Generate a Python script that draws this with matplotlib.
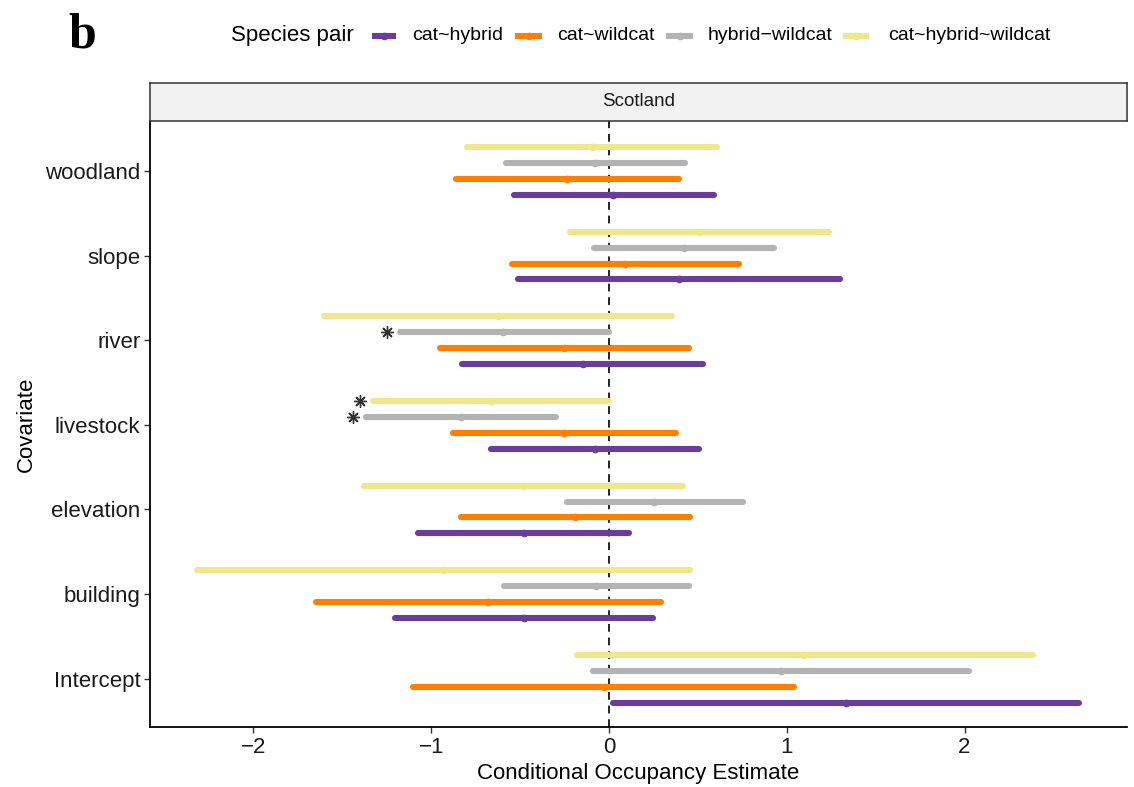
import matplotlib
matplotlib.use("Agg")
import matplotlib.pyplot as plt
from matplotlib.lines import Line2D
import numpy as np

plt.rcParams['font.family'] = ['Liberation Sans', 'DejaVu Sans']

covariates = ["Intercept", "building", "elevation", "livestock", "river", "slope", "woodland"]
pairs = ["cat~hybrid", "cat~wildcat", "hybrid\u2212wildcat", "cat~hybrid~wildcat"]
colors = ["#6A3D9A", "#FF7F00", "#B3B3B3", "#F0E68C"]

# estimates, lower, upper per pair (order follows covariates)
est_cat_hybrid = [1.335, -0.480, -0.480, -0.079, -0.149, 0.392, 0.023]
lo_cat_hybrid = [0.02, -1.205, -1.075, -0.665, -0.825, -0.51, -0.535]
hi_cat_hybrid = [2.645, 0.245, 0.115, 0.505, 0.527, 1.297, 0.593]

est_cat_wildcat = [-0.026, -0.680, -0.191, -0.255, -0.255, 0.090, -0.237]
lo_cat_wildcat = [-1.105, -1.65, -0.83, -0.875, -0.95, -0.548, -0.863]
hi_cat_wildcat = [1.043, 0.291, 0.453, 0.375, 0.449, 0.731, 0.393]

est_hybrid_wildcat = [0.966, -0.075, 0.255, -0.835, -0.596, 0.421, -0.079]
lo_hybrid_wildcat = [-0.088, -0.593, -0.238, -1.366, -1.176, -0.083, -0.579]
hi_hybrid_wildcat = [2.025, 0.449, 0.752, -0.300, 0.0, 0.927, 0.425]

est_cat_hybrid_wildcat = [1.099, -0.933, -0.483, -0.666, -0.627, 0.505, -0.093]
lo_cat_hybrid_wildcat = [-0.178, -2.316, -1.38, -1.328, -1.605, -0.22, -0.796]
hi_cat_hybrid_wildcat = [2.383, 0.456, 0.418, 0.0, 0.354, 1.237, 0.607]

# significance flags (asterisk)
sig_hybrid_wildcat = [False, False, False, True, True, False, False]
sig_cat_hybrid_wildcat = [False, False, False, True, False, False, False]
sig_cat_hybrid = [False] * 7
sig_cat_wildcat = [False] * 7

ests = [est_cat_hybrid, est_cat_wildcat, est_hybrid_wildcat, est_cat_hybrid_wildcat]
los = [lo_cat_hybrid, lo_cat_wildcat, lo_hybrid_wildcat, lo_cat_hybrid_wildcat]
his = [hi_cat_hybrid, hi_cat_wildcat, hi_hybrid_wildcat, hi_cat_hybrid_wildcat]
sigs = [sig_cat_hybrid, sig_cat_wildcat, sig_hybrid_wildcat, sig_cat_hybrid_wildcat]

W, H = 1134, 787
fig = plt.figure(figsize=(W / 100, H / 100), dpi=100)

ax_l, ax_r, ax_t, ax_b = 150, 1127, 121, 727
ax = fig.add_axes([ax_l / W, 1 - ax_b / H, (ax_r - ax_l) / W, (ax_b - ax_t) / H])

offsets = [-0.28125, -0.09375, 0.09375, 0.28125]
ypos = np.arange(1, len(covariates) + 1)

ax.axvline(0, color="#222222", lw=1.4, ls=(0, (4, 3)), zorder=1)

for k in range(4):
    for i in range(len(covariates)):
        y = ypos[i] + offsets[k]
        ax.plot([los[k][i], his[k][i]], [y, y], color=colors[k], lw=4.4,
                solid_capstyle="round", zorder=2 + k * 0.1)
        ax.plot(ests[k][i], y, marker="o", ms=4.5, color=colors[k], mec=colors[k],
                zorder=3 + k * 0.1)
        if sigs[k][i]:
            ax.plot(los[k][i] - 0.075, y, marker=(8, 2, 0), ms=9, color="#333333",
                    mew=1.0, zorder=4)

ax.set_xlim(-2.582, 2.914)
ax.set_ylim(0.43, 7.59)
ax.set_yticks(ypos)
ax.set_yticklabels(covariates, fontsize=16, color="#1a1a1a")
ax.set_xticks([-2, -1, 0, 1, 2])
ax.set_xticklabels(["\u22122", "\u22121", "0", "1", "2"], fontsize=16, color="#1a1a1a")
ax.tick_params(axis="both", length=4, width=1, color="#333333", pad=3)
for s in ["top", "right"]:
    ax.spines[s].set_visible(False)
for s in ["left", "bottom"]:
    ax.spines[s].set_linewidth(1.3)
    ax.spines[s].set_color("black")
ax.set_xlabel("Conditional Occupancy Estimate", fontsize=16, labelpad=4)
ax.set_ylabel("Covariate", fontsize=16, labelpad=6)

# strip
st_t, st_b = 83, 121
sax = fig.add_axes([ax_l / W, 1 - st_b / H, (ax_r - ax_l) / W, (st_b - st_t) / H])
sax.set_facecolor("#F2F2F2")
sax.set_xticks([])
sax.set_yticks([])
for s in sax.spines.values():
    s.set_color("#333333")
    s.set_linewidth(1.1)
sax.text(0.5, 0.5, "Scotland", ha="center", va="center", fontsize=13.5,
         color="#1a1a1a", transform=sax.transAxes)

# panel label
fig.text(68 / W, 1 - 48 / H, "b", fontsize=36, fontweight="bold",
         family="Liberation Serif", ha="left", va="baseline")

# legend (manual)
ly = 1 - 36 / H
fig.text(231 / W, ly, "Species pair", fontsize=16, ha="left", va="center")
keys = [(372, 396, 412), (515, 542, 557), (666, 693, 708), (843, 869, 888)]
for k, (x0, x1, tx) in enumerate(keys):
    fig.add_artist(Line2D([x0 / W, x1 / W], [ly, ly], transform=fig.transFigure,
                          color=colors[k], lw=4.4, solid_capstyle="butt"))
    fig.add_artist(Line2D([(x0 + x1) / 2 / W], [ly], transform=fig.transFigure,
                          color=colors[k], marker="o", ms=4.5, lw=0))
    fig.text(tx / W, ly, pairs[k], fontsize=14, ha="left", va="center")

fig.savefig("out.png", dpi=100)
